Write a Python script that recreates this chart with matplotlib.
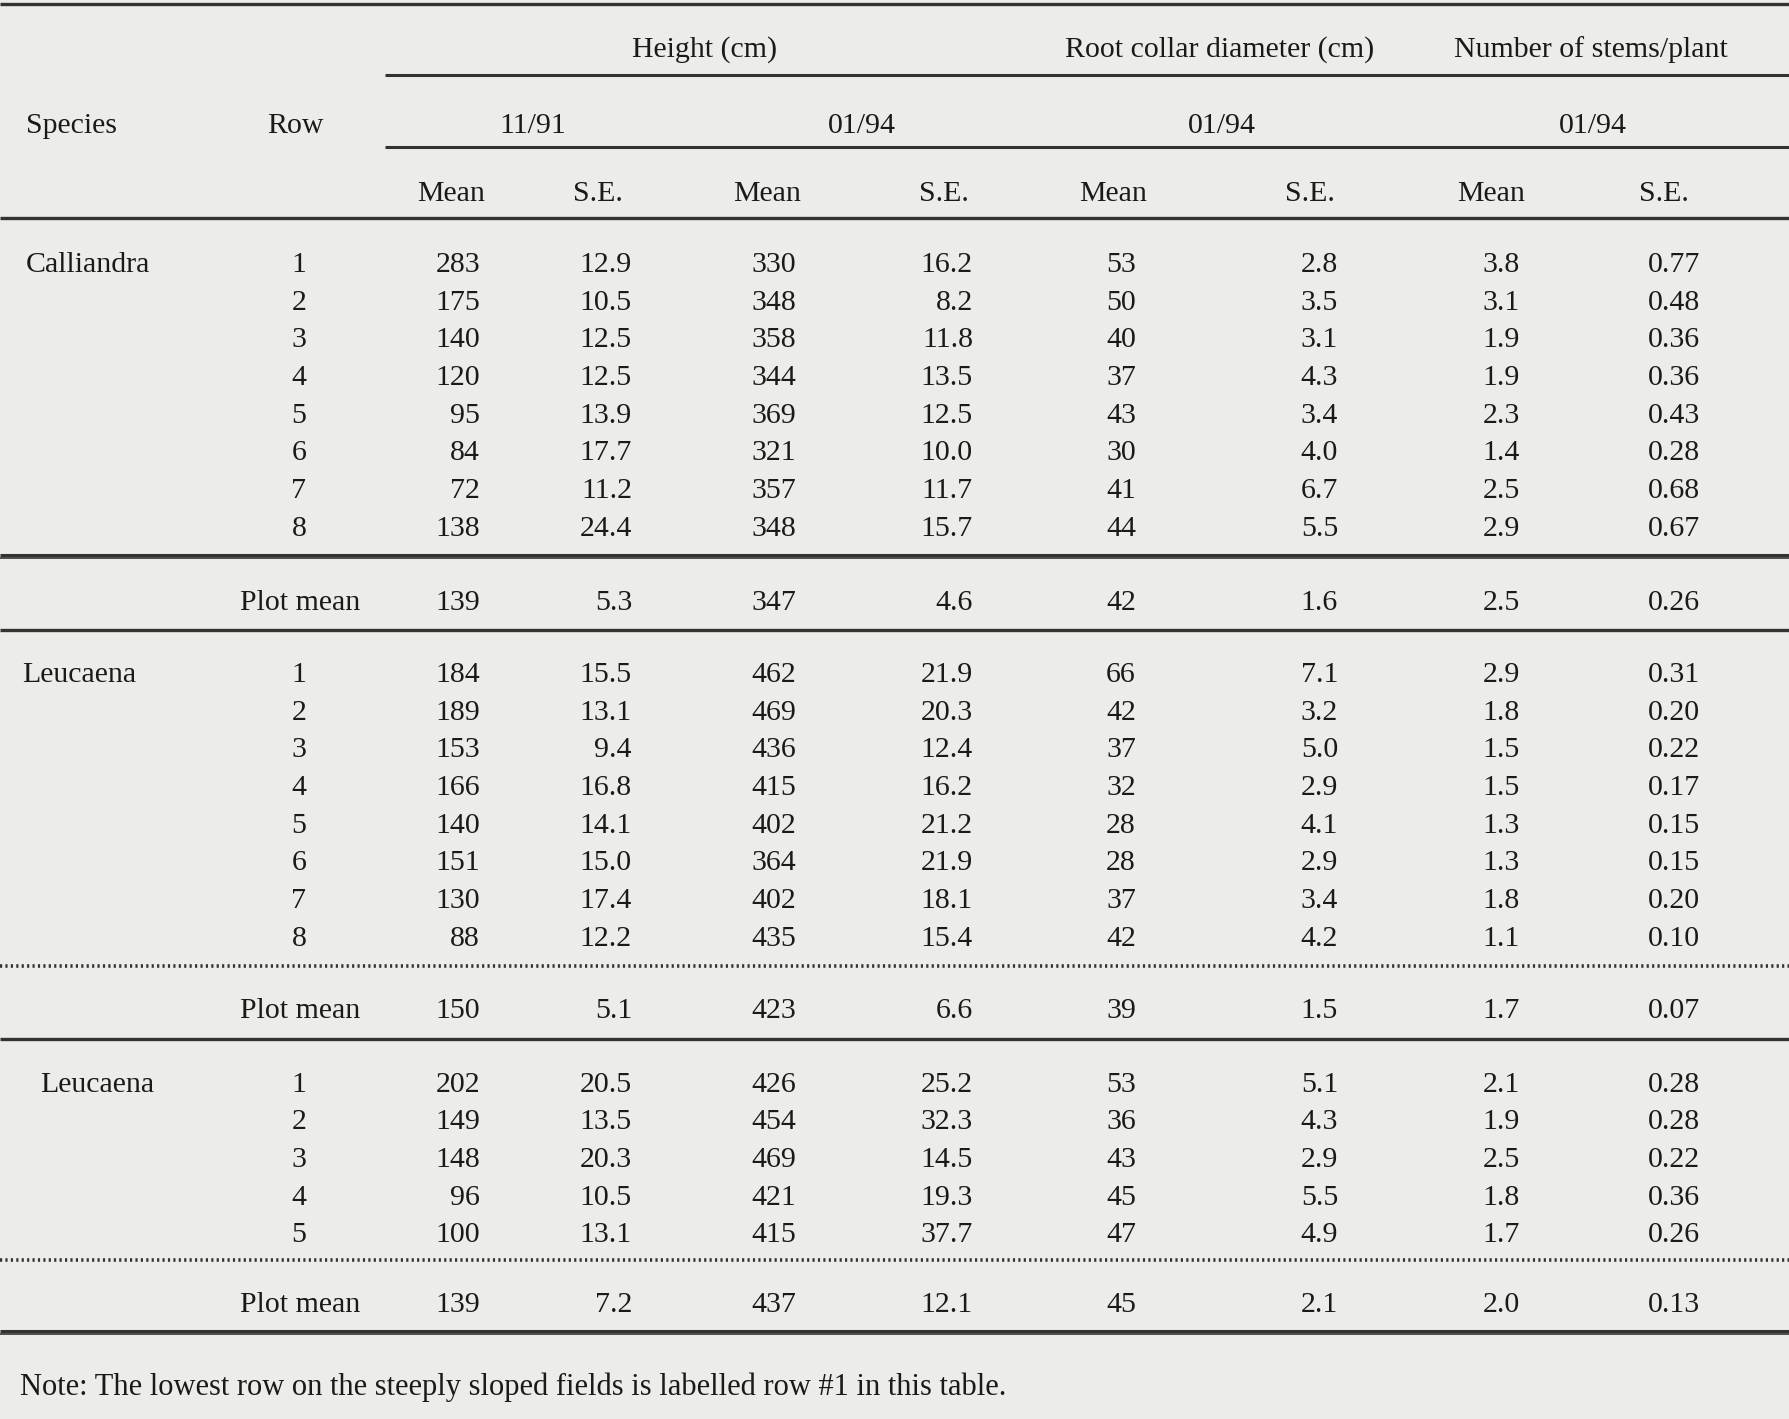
import matplotlib
matplotlib.use("Agg")
import matplotlib.pyplot as plt

# ---------------- data ----------------
group_headers = ["Height (cm)", "Root collar diameter (cm)", "Number of stems/plant"]
date_headers = ["11/91", "01/94", "01/94", "01/94"]
sub_headers = ["Mean", "S.E.", "Mean", "S.E.", "Mean", "S.E.", "Mean", "S.E."]
species = ["Calliandra", "Leucaena", "Leucaena"]
row_ids = [[1, 2, 3, 4, 5, 6, 7, 8], [1, 2, 3, 4, 5, 6, 7, 8], [1, 2, 3, 4, 5]]

calliandra_h91_mean = [283, 175, 140, 120, 95, 84, 72, 138]
calliandra_h91_se = [12.9, 10.5, 12.5, 12.5, 13.9, 17.7, 11.2, 24.4]
calliandra_h94_mean = [330, 348, 358, 344, 369, 321, 357, 348]
calliandra_h94_se = [16.2, 8.2, 11.8, 13.5, 12.5, 10.0, 11.7, 15.7]
calliandra_rcd_mean = [53, 50, 40, 37, 43, 30, 41, 44]
calliandra_rcd_se = [2.8, 3.5, 3.1, 4.3, 3.4, 4.0, 6.7, 5.5]
calliandra_stems_mean = [3.8, 3.1, 1.9, 1.9, 2.3, 1.4, 2.5, 2.9]
calliandra_stems_se = [0.77, 0.48, 0.36, 0.36, 0.43, 0.28, 0.68, 0.67]
calliandra_plot_mean = [139, 5.3, 347, 4.6, 42, 1.6, 2.5, 0.26]

leucaena1_h91_mean = [184, 189, 153, 166, 140, 151, 130, 88]
leucaena1_h91_se = [15.5, 13.1, 9.4, 16.8, 14.1, 15.0, 17.4, 12.2]
leucaena1_h94_mean = [462, 469, 436, 415, 402, 364, 402, 435]
leucaena1_h94_se = [21.9, 20.3, 12.4, 16.2, 21.2, 21.9, 18.1, 15.4]
leucaena1_rcd_mean = [66, 42, 37, 32, 28, 28, 37, 42]
leucaena1_rcd_se = [7.1, 3.2, 5.0, 2.9, 4.1, 2.9, 3.4, 4.2]
leucaena1_stems_mean = [2.9, 1.8, 1.5, 1.5, 1.3, 1.3, 1.8, 1.1]
leucaena1_stems_se = [0.31, 0.20, 0.22, 0.17, 0.15, 0.15, 0.20, 0.10]
leucaena1_plot_mean = [150, 5.1, 423, 6.6, 39, 1.5, 1.7, 0.07]

leucaena2_h91_mean = [202, 149, 148, 96, 100]
leucaena2_h91_se = [20.5, 13.5, 20.3, 10.5, 13.1]
leucaena2_h94_mean = [426, 454, 469, 421, 415]
leucaena2_h94_se = [25.2, 32.3, 14.5, 19.3, 37.7]
leucaena2_rcd_mean = [53, 36, 43, 45, 47]
leucaena2_rcd_se = [5.1, 4.3, 2.9, 5.5, 4.9]
leucaena2_stems_mean = [2.1, 1.9, 2.5, 1.8, 1.7]
leucaena2_stems_se = [0.28, 0.28, 0.22, 0.36, 0.26]
leucaena2_plot_mean = [139, 7.2, 437, 12.1, 45, 2.1, 2.0, 0.13]

note_text = "Note: The lowest row on the steeply sloped fields is labelled row #1 in this table."

# ---------------- layout ----------------
W, H = 1790, 1419
BG = "#ececea"
INK = "#1a1a1a"
RULE = "#333333"
FONT = "Liberation Serif"
FS = 21.5

fig = plt.figure(figsize=(W / 100, H / 100), dpi=100, facecolor=BG)
ax = fig.add_axes([0, 0, 1, 1])
ax.set_facecolor(BG)
ax.set_xlim(0, W)
ax.set_ylim(H, 0)
ax.axis("off")

def txt(x, y, s, ha="center", fs=FS):
    ax.text(x, y, s, ha=ha, va="center", fontsize=fs, family=FONT, color=INK)

def rule(y, x0=0, x1=W, lw=2.2, ls="-"):
    ax.plot([x0, x1], [y, y], color=RULE, lw=lw, ls=ls, solid_capstyle="butt")

col_right = [480, 632, 796, 973, 1136, 1338, 1520, 1700]
sub_x = [451, 598, 767, 944, 1113, 1310, 1491, 1664]
group_x = [705, 1220, 1591]
date_x = [533, 862, 1222, 1593]
fmts = ["{:d}", "{:.1f}", "{:d}", "{:.1f}", "{:d}", "{:.1f}", "{:.1f}", "{:.2f}"]

# header
rule(4, lw=2.4)
for x, s in zip(group_x, group_headers):
    txt(x, 50, s)
rule(75, x0=385, lw=2.2)
txt(26, 126, "Species", ha="left")
txt(267, 126, "Row", ha="left")
for x, s in zip(date_x, date_headers):
    txt(x, 126, s)
rule(147, x0=385, lw=2.2)
for x, s in zip(sub_x, sub_headers):
    txt(x, 194, s)
rule(218, lw=2.4)

sections = [
    (calliandra_h91_mean, calliandra_h91_se, calliandra_h94_mean, calliandra_h94_se,
     calliandra_rcd_mean, calliandra_rcd_se, calliandra_stems_mean, calliandra_stems_se),
    (leucaena1_h91_mean, leucaena1_h91_se, leucaena1_h94_mean, leucaena1_h94_se,
     leucaena1_rcd_mean, leucaena1_rcd_se, leucaena1_stems_mean, leucaena1_stems_se),
    (leucaena2_h91_mean, leucaena2_h91_se, leucaena2_h94_mean, leucaena2_h94_se,
     leucaena2_rcd_mean, leucaena2_rcd_se, leucaena2_stems_mean, leucaena2_stems_se),
]
plot_means = [calliandra_plot_mean, leucaena1_plot_mean, leucaena2_plot_mean]
section_y0 = [265, 675, 1084.5]
plotmean_y = [603, 1011, 1305]
species_x = [26, 22, 40]
step = 37.7

for si, cols in enumerate(sections):
    y0 = section_y0[si]
    txt(species_x[si], y0, species[si], ha="left")
    for ri, rid in enumerate(row_ids[si]):
        y = y0 + ri * step
        txt(299, y, str(rid))
        for ci, col in enumerate(cols):
            txt(col_right[ci], y, fmts[ci].format(col[ri]), ha="right")
    yp = plotmean_y[si]
    txt(300, yp, "Plot mean")
    for ci, v in enumerate(plot_means[si]):
        txt(col_right[ci], yp, fmts[ci].format(v), ha="right")

# section rules
rule(555, lw=2.2)
rule(558, lw=1.2)
rule(630, lw=2.4)
rule(966, lw=2.6, ls=(0, (0.6, 0.9)))
rule(1039, lw=2.4)
rule(1260, lw=2.6, ls=(0, (0.6, 0.9)))
rule(1331, lw=2.2)
rule(1334, lw=1.2)

txt(20, 1387, note_text, ha="left", fs=FS + 0.5)

fig.savefig("out.png", dpi=100, facecolor=BG)
